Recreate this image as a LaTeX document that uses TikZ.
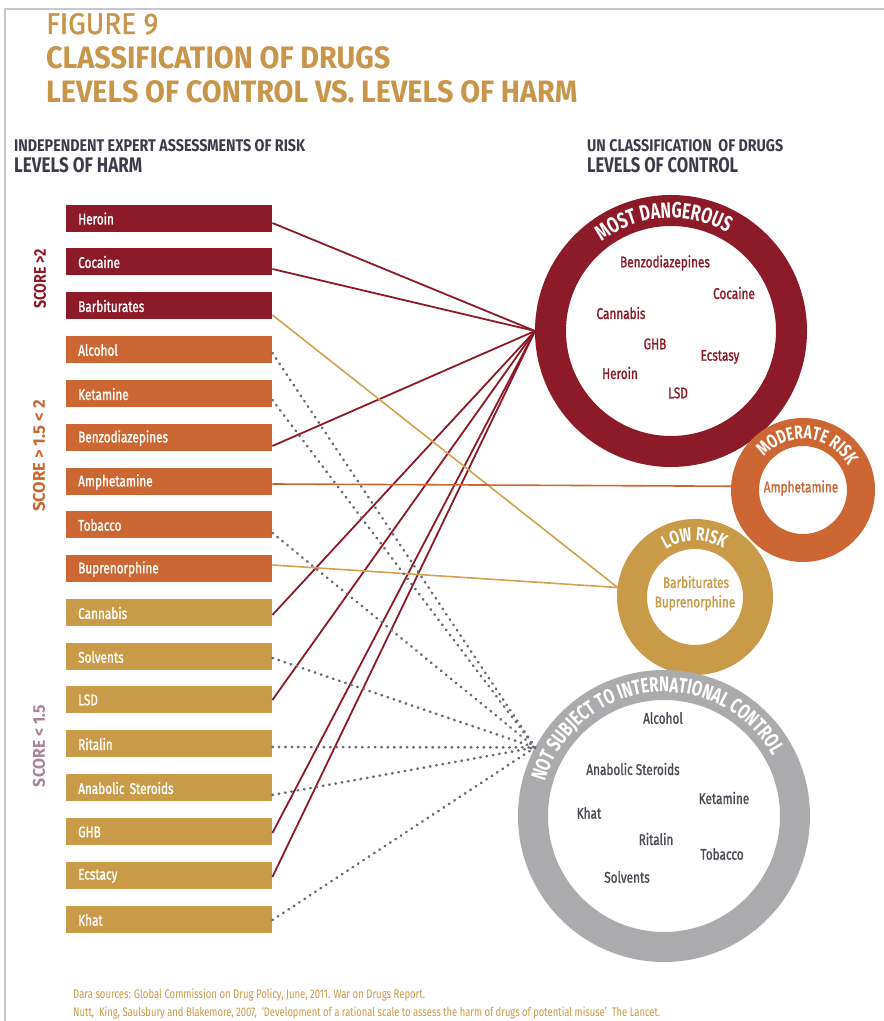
\documentclass[tikz,border=0pt]{standalone}
\usepackage{fontspec}
\setmainfont{Fira Sans}
\newfontfamily\cf{Fira Sans}[FakeStretch=0.76]
\newfontfamily\cfm{Fira Sans}[FakeStretch=0.76, FakeBold=1.2]
\newfontfamily\rf{Fira Sans}[FakeStretch=0.72]
\usetikzlibrary{decorations.text}
\definecolor{dred}{HTML}{8C1A28}
\definecolor{dorange}{HTML}{CC6633}
\definecolor{dgold}{HTML}{C99A48}
\definecolor{lgold}{HTML}{D3A24E}
\definecolor{ringgrey}{HTML}{ABABAD}
\definecolor{titlegold}{HTML}{C8964B}
\definecolor{hdark}{HTML}{3C3C4A}
\definecolor{mauve}{HTML}{A98598}
\definecolor{txtgrey}{HTML}{4B4B55}
\definecolor{dotgrey}{HTML}{6A6A72}
\definecolor{framegrey}{HTML}{C8C8C8}
\newcommand{\fitbox}[3]{\resizebox{#1pt}{#2pt}{#3}}
\begin{document}
\begin{tikzpicture}[x=1pt,y=1pt,
  bar/.style={rectangle, anchor=west, minimum width=206pt, minimum height=27pt, inner xsep=12pt, inner ysep=0pt, text width=182pt, align=left, text=white, font=\cfm\fontsize{15.5}{18}\selectfont},
  redbar/.style={bar, fill=dred},
  orbar/.style={bar, fill=dorange},
  gdbar/.style={bar, fill=dgold},
  ring/.style={circle, draw, inner sep=0pt},
  hd/.style={anchor=base west, inner sep=0pt},
  intext/.style={inner sep=0pt, font=\cfm\fontsize{15.5}{18}\selectfont},
  redline/.style={draw=dred, line width=1.8pt},
  goldline/.style={draw=lgold, line width=1.6pt},
  orline/.style={draw=dorange, line width=1.6pt},
  dotline/.style={draw=dotgrey, line width=2.6pt, line cap=round, dash pattern=on 0.6pt off 5.8pt},
  ringtext/.style={decorate, decoration={text along path, text align=center, text color=white, text={#1}}}
]
\useasboundingbox (0,0) rectangle (884,1021);
\fill[white] (0,0) rectangle (884,1021);
% frame
\draw[framegrey, line width=1.5pt] (884,1012) -- (5,1012) -- (5,0);

% titles
\node[hd, text=titlegold] (t1) at (46,987) {\fitbox{112}{21}{\cfm FIGURE 9}};
\node[hd, text=titlegold] (t2) at (46,952) {\fitbox{344}{22}{\cf\bfseries CLASSIFICATION OF DRUGS}};
\node[hd, text=titlegold] (t3) at (46,918) {\fitbox{531}{22}{\cf\bfseries LEVELS OF CONTROL VS. LEVELS OF HARM}};

% headers
\node[hd, text=hdark] (h1) at (14,869) {\fitbox{291}{12}{\cf\bfseries INDEPENDENT EXPERT ASSESSMENTS OF RISK}};
\node[hd, text=hdark] (h2) at (14,848) {\fitbox{128}{15}{\cf\bfseries LEVELS OF HARM}};
\node[hd, text=hdark] (h3) at (587,869) {\fitbox{196}{12}{\cf\bfseries UN CLASSIFICATION\ \ OF DRUGS}};
\node[hd, text=hdark] (h4) at (587,848) {\fitbox{151}{15}{\cf\bfseries LEVELS OF CONTROL}};

% score labels
\node[rotate=90, inner sep=0pt, text=dred] (s1) at (40,742) {\fitbox{60}{12}{\cf\bfseries SCORE >2}};
\node[rotate=90, inner sep=0pt, text=dorange] (s2) at (39,565) {\fitbox{112}{12}{\cf\bfseries SCORE > 1.5 < 2}};
\node[rotate=90, inner sep=0pt, text=mauve] (s3) at (39,275) {\fitbox{82}{12}{\cf\bfseries SCORE < 1.5}};

% bars
\node[redbar] (b1) at (66,802.5) {Heroin};
\node[redbar] (b2) at (66,759) {Cocaine};
\node[redbar] (b3) at (66,715) {Barbiturates};
\node[orbar] (b4) at (66,671) {Alcohol};
\node[orbar] (b5) at (66,627) {Ketamine};
\node[orbar] (b6) at (66,583) {Benzodiazepines};
\node[orbar] (b7) at (66,539) {Amphetamine};
\node[orbar] (b8) at (66,496) {Tobacco};
\node[orbar] (b9) at (66,452) {Buprenorphine};
\node[gdbar] (b10) at (66,408) {Cannabis};
\node[gdbar] (b11) at (66,364) {Solvents};
\node[gdbar] (b12) at (66,321) {LSD};
\node[gdbar] (b13) at (66,277) {Ritalin};
\node[gdbar] (b14) at (66,233) {Anabolic Steroids};
\node[gdbar] (b15) at (66,189) {GHB};
\node[gdbar] (b16) at (66,145) {Ecstacy};
\node[gdbar] (b17) at (66,101) {Khat};

% rings
\node[ring, draw=dred, line width=31pt, minimum size=241pt] (MD) at (671,690) {};
\node[ring, draw=dorange, line width=28pt, minimum size=116pt] (MR) at (803,531) {};
\node[ring, draw=dgold, line width=30pt, minimum size=126pt] (LR) at (695,424) {};
\node[ring, draw=ringgrey, line width=30pt, minimum size=262pt] (NS) at (664,205) {};

% ring titles
\path[ringtext={|\rf\bfseries\fontsize{22}{22}\selectfont|MOST DANGEROUS}] (MD.center) ++(179:113) arc[start angle=179, end angle=9, radius=113];
\path[ringtext={|\rf\bfseries\fontsize{19}{19}\selectfont|MODERATE RISK}] (MR.center) ++(164:51) arc[start angle=164, end angle=4, radius=51];
\path[ringtext={|\rf\bfseries\fontsize{19}{19}\selectfont|LOW RISK}] (LR.center) ++(170:56) arc[start angle=170, end angle=11, radius=56];
\path[ringtext={|\rf\bfseries\fontsize{21}{21}\selectfont|NOT SUBJECT TO INTERNATIONAL CONTROL}] (NS.center) ++(176.5:124) arc[start angle=176.5, end angle=16.5, radius=124];

% inner texts
\node[intext, text=dred] (m1) at (665,758) {Benzodiazepines};
\node[intext, text=dred] (m2) at (734,728) {Cocaine};
\node[intext, text=dred] (m3) at (621,708) {Cannabis};
\node[intext, text=dred] (m4) at (655,677) {GHB};
\node[intext, text=dred] (m5) at (720,664) {Ecstasy};
\node[intext, text=dred] (m6) at (620,648) {Heroin};
\node[intext, text=dred] (m7) at (678,628) {LSD};
\node[intext, text=dorange] (r1) at (801,533) {Amphetamine};
\node[intext, text=dgold] (l1) at (696,439) {Barbiturates};
\node[intext, text=dgold] (l2) at (695,418) {Buprenorphine};
\node[intext, text=txtgrey] (n1) at (663,303) {Alcohol};
\node[intext, text=txtgrey] (n2) at (633,252) {Anabolic Steroids};
\node[intext, text=txtgrey] (n3) at (724,223) {Ketamine};
\node[intext, text=txtgrey] (n4) at (589,208) {Khat};
\node[intext, text=txtgrey] (n5) at (656,182) {Ritalin};
\node[intext, text=txtgrey] (n6) at (722,167) {Tobacco};
\node[intext, text=txtgrey] (n7) at (627,144) {Solvents};

% connectors
\draw[redline] ([yshift=-4.5pt]b1.east) -- (MD.west);
\draw[redline] ([yshift=-7pt]b2.east) -- (MD.west);
\draw[redline] ([yshift=-8pt]b6.east) -- (MD.west);
\draw[redline] ([yshift=-2pt]b10.east) -- (MD.west);
\draw[redline] (b12.east) -- (MD.west);
\draw[redline] ([yshift=-1pt]b15.east) -- (MD.west);
\draw[redline] ([yshift=-1pt]b16.east) -- (MD.west);
\draw[goldline] ([yshift=-9pt]b3.east) -- (LR.173);
\draw[goldline] ([yshift=4pt]b9.east) -- (LR.173);
\draw[orline] ([yshift=-2pt]b7.east) -- (MR.177);
\draw[dotline] ([yshift=-3pt]b4.east) -- (NS.152);
\draw[dotline] ([yshift=-6pt]b5.east) -- (NS.152);
\draw[dotline] ([yshift=-8pt]b8.east) -- (NS.152);
\draw[dotline] ([yshift=-1pt]b11.east) -- (NS.152);
\draw[dotline] ([yshift=-3pt]b13.east) -- (NS.152);
\draw[dotline] ([yshift=-7pt]b14.east) -- (NS.152);
\draw[dotline] (b17.east) -- (NS.152);

% footer
\node[hd, text=dgold] (f1) at (73,22) {\resizebox{352pt}{!}{\cf\fontsize{10}{12}\selectfont Dara sources: Global Commission on Drug Policy, June, 2011. War on Drugs Report.}};
\node[hd, text=dgold] (f2) at (73,5) {\resizebox{587pt}{!}{\cf\fontsize{10}{12}\selectfont Nutt,\ \ King, Saulsbury and Blakemore, 2007,\ \ ‘Development of a rational scale to assess the harm of drugs of potential misuse’\ \ The Lancet.}};
\end{tikzpicture}
\end{document}
